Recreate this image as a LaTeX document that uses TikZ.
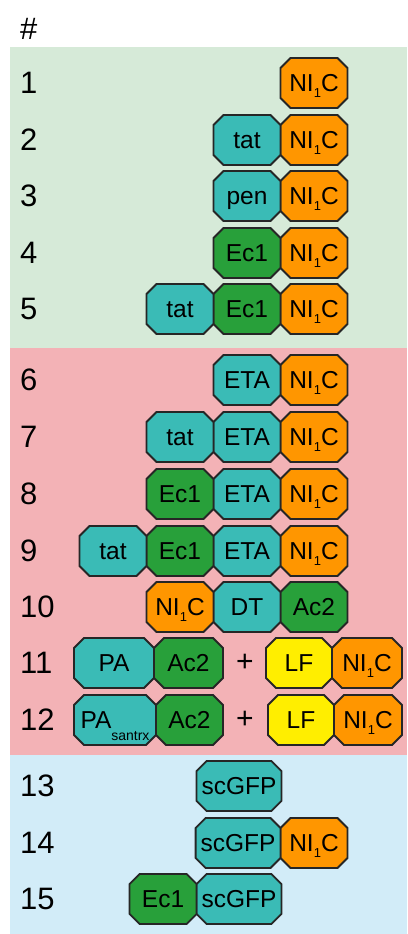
\documentclass[tikz,border=0pt]{standalone}
\usepackage{fontspec}
\setmainfont{Liberation Sans}
\usepackage{xcolor}
\usepackage{tikz}
\usetikzlibrary{positioning,shapes.misc}
\definecolor{cynbox}{RGB}{58,187,182}
\definecolor{grnbox}{RGB}{40,160,58}
\definecolor{orgbox}{RGB}{255,150,0}
\definecolor{ylwbox}{RGB}{255,238,0}
\definecolor{bggrn}{RGB}{214,234,216}
\definecolor{bgred}{RGB}{243,178,182}
\definecolor{bgblu}{RGB}{210,236,248}
\newcommand{\nic}{NI\smash{\raisebox{-5.5pt}{\fontsize{13}{13}\selectfont 1}}C}
\tikzset{
  box/.style = {chamfered rectangle, chamfered rectangle xsep=5pt,
                chamfered rectangle ysep=5pt, draw=black!85, line width=1.8pt,
                minimum width=67pt, minimum height=50pt, inner sep=0pt,
                outer sep=0pt, text height=17.5pt, text depth=0pt,
                font=\fontsize{24.5}{26}\selectfont},
  cyn/.style = {box, fill=cynbox},
  grn/.style = {box, fill=grnbox},
  org/.style = {box, fill=orgbox},
  ylw/.style = {box, fill=ylwbox},
  num/.style = {anchor=west, inner sep=0pt, font=\fontsize{31}{33}\selectfont},
  pls/.style = {inner sep=0pt, font=\fontsize{30}{32}\selectfont},
}

\begin{document}
\begin{tikzpicture}[x=1pt, y=-1pt, node distance=0pt]
    \useasboundingbox (0,0) rectangle (407,934);
    % bands
    \fill[bggrn] (10,47) rectangle (407,348);
    \fill[bgred] (10,348) rectangle (407,755);
    \fill[bgblu] (10,755) rectangle (407,934);
    \node[num] (hash) at (20,29) {\#};
    % group 1
    \node[num] (n1) at (20,83) {1};
    \node[org] (r1a) at (314,83) {\nic};
    \node[num] (n2) at (20,140) {2};
    \node[org] (r2a) at (314,140) {\nic};
    \node[cyn, left=of r2a] (r2b) {tat};
    \node[num] (n3) at (20,196) {3};
    \node[org] (r3a) at (314,196) {\nic};
    \node[cyn, left=of r3a] (r3b) {pen};
    \node[num] (n4) at (20,253) {4};
    \node[org] (r4a) at (314,253) {\nic};
    \node[grn, left=of r4a] (r4b) {Ec1};
    \node[num] (n5) at (20,309) {5};
    \node[org] (r5a) at (314,309) {\nic};
    \node[grn, left=of r5a] (r5b) {Ec1};
    \node[cyn, left=of r5b] (r5c) {tat};
    % group 2
    \node[num] (n6) at (20,380) {6};
    \node[org] (r6a) at (314,380) {\nic};
    \node[cyn, left=of r6a] (r6b) {ETA};
    \node[num] (n7) at (20,437) {7};
    \node[org] (r7a) at (314,437) {\nic};
    \node[cyn, left=of r7a] (r7b) {ETA};
    \node[cyn, left=of r7b] (r7c) {tat};
    \node[num] (n8) at (20,494) {8};
    \node[org] (r8a) at (314,494) {\nic};
    \node[cyn, left=of r8a] (r8b) {ETA};
    \node[grn, left=of r8b] (r8c) {Ec1};
    \node[num] (n9) at (20,551) {9};
    \node[org] (r9a) at (314,551) {\nic};
    \node[cyn, left=of r9a] (r9b) {ETA};
    \node[grn, left=of r9b] (r9c) {Ec1};
    \node[cyn, left=of r9c] (r9d) {tat};
    \node[num] (n10) at (20,607) {10};
    \node[grn] (r10a) at (314,607) {Ac2};
    \node[cyn, left=of r10a] (r10b) {DT};
    \node[org, left=of r10b] (r10c) {\nic};
    \node[num] (n11) at (20,663) {11};
    \node[org, minimum width=70pt] (r11a) at (367,663) {\nic};
    \node[ylw, minimum width=66pt, left=of r11a] (r11b) {LF};
    \node[pls] (p11) at (245,663) {+};
    \node[grn, minimum width=69pt] (r11c) at (188.5,663) {Ac2};
    \node[cyn, minimum width=80pt, left=of r11c] (r11d) {PA};
    \node[num] (n12) at (20,720) {12};
    \node[org, minimum width=68pt] (r12a) at (368,720) {\nic};
    \node[ylw, minimum width=66pt, left=of r12a] (r12b) {LF};
    \node[pls] (p12) at (245,720) {+};
    \node[grn, minimum width=67pt] (r12c) at (189.5,720) {Ac2};
    \node[cyn, minimum width=82pt, left=of r12c] (r12d) {PA\smash{\raisebox{-12pt}{\fontsize{14}{14}\selectfont santrx}}};
    % group 3
    \node[num] (n13) at (20,786) {13};
    \node[cyn, minimum width=84pt] (r13a) at (239,786) {scGFP};
    \node[num] (n14) at (20,843) {14};
    \node[org] (r14a) at (314,843) {\nic};
    \node[cyn, minimum width=84pt, left=of r14a] (r14b) {scGFP};
    \node[num] (n15) at (20,899) {15};
    \node[cyn, minimum width=84pt] (r15a) at (239,899) {scGFP};
    \node[grn, left=of r15a] (r15b) {Ec1};
\end{tikzpicture}
\end{document}
